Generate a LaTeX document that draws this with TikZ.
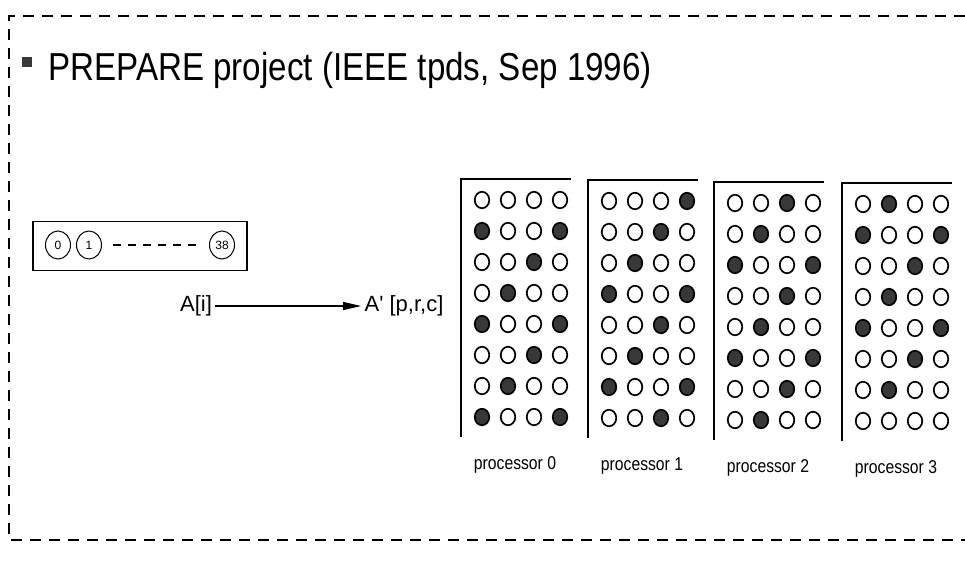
\documentclass[tikz,border=0pt]{standalone}
\usepackage{fontspec}
\setmainfont{Liberation Sans}
\newfontfamily\narrowsans[FakeStretch=0.85]{Liberation Sans}
\usetikzlibrary{arrows.meta,positioning,shapes.geometric}

\colorlet{dot0}{white}
\colorlet{dot1}{black!78}

\tikzset{
  hole/.style={draw, ellipse, line width=1.7pt, inner sep=0pt, minimum width=14.5pt, minimum height=16.5pt},
  elem/.style={draw, ellipse, line width=1pt, inner sep=0pt, minimum width=25pt, minimum height=28pt, font=\fontsize{12}{13}\selectfont},
  lbl/.style={font=\narrowsans\fontsize{18.5}{20}\selectfont},
  frame/.style={line width=1.4pt, dash pattern=on 11pt off 8pt},
}

% rows of each processor block, 1 = filled
\def\procA{{0,0,0,0},{1,0,0,1},{0,0,1,0},{0,1,0,0},{1,0,0,1},{0,0,1,0},{0,1,0,0},{1,0,0,1}}
\def\procB{{0,0,0,1},{0,0,1,0},{0,1,0,0},{1,0,0,1},{0,0,1,0},{0,1,0,0},{1,0,0,1},{0,0,1,0}}
\def\procC{{0,0,1,0},{0,1,0,0},{1,0,0,1},{0,0,1,0},{0,1,0,0},{1,0,0,1},{0,0,1,0},{0,1,0,0}}
\def\procD{{0,1,0,0},{1,0,0,1},{0,0,1,0},{0,1,0,0},{1,0,0,1},{0,0,1,0},{0,1,0,0},{0,0,0,0}}

\begin{document}
\begin{tikzpicture}[x=1pt, y=-1pt]
  \useasboundingbox (0,0) rectangle (965,571);

  % outer dashed frame
  \draw[frame] (965,16) -- (9,16) -- (9,540) -- (965,540);

  % title
  \node[fill=black!78, minimum size=10pt, inner sep=0pt] (bullet) at (27,62) {};
  \node[anchor=base west, inner sep=0pt, font=\narrowsans\fontsize{39}{44}\selectfont] (title) at (48,80) {PREPARE project (IEEE tpds, Sep 1996)};

  % one-dimensional array
  \node[draw, line width=1.2pt, minimum width=214pt, minimum height=49pt] (array) at (140,246) {};
  \node[elem] (e0) at (58,245) {0};
  \node[elem] (e1) at (89,245) {1};
  \node[elem] (e38) at (222,245) {38};
  \draw[line width=1.2pt, dash pattern=on 7.5pt off 7.5pt, shorten <=11pt, shorten >=13pt] (e1) -- (e38);

  % mapping
  \node[font=\fontsize{22}{24}\selectfont] (ai) at (196,306) {A[i]};
  \node[font=\fontsize{22}{24}\selectfont] (ap) at (404,306) {A\textquotesingle\ [p,r,c]};
  \draw[line width=1.1pt, -{Triangle[length=18pt,width=8pt]}] (ai) -- (ap);

  % processor blocks
  \foreach \p/\px/\py/\rows in {0/482/200/\procA, 1/609/201/\procB, 2/735/203/\procC, 3/863/204/\procD}{
    \edef\rowlist{\rows}
    \draw[line width=1.3pt] ({\px-21},{\py+237}) -- ({\px-21},{\py-21}) -- ({\px+89},{\py-21});
    \foreach \row [count=\r from 0] in \rowlist {
      \foreach \v [count=\c from 0] in \row {
        \node[hole, fill=dot\v] (d\p-\r-\c) at ({\px+26*\c},{\py+31*\r}) {};
      }
    }
    \node[lbl] (proc\p) at ({\px+33},{\py+265}) {processor \p};
  }
\end{tikzpicture}
\end{document}
